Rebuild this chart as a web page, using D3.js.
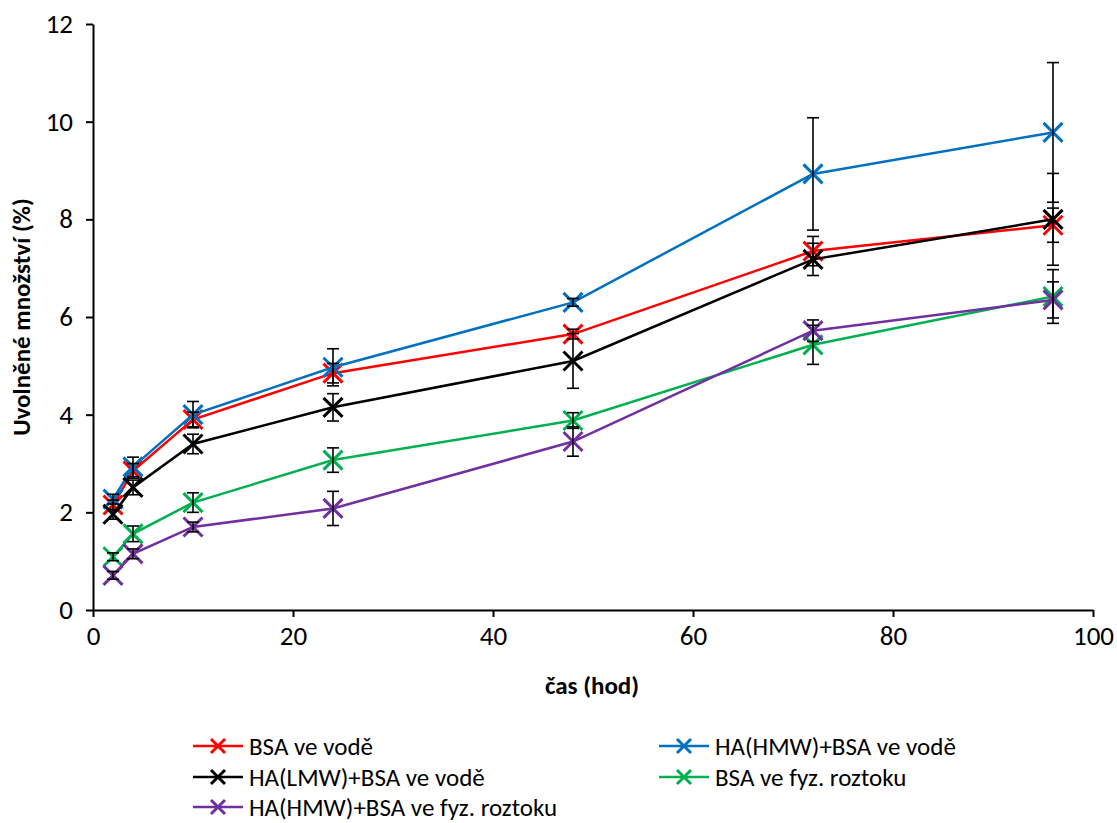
<!DOCTYPE html>
<html><head><meta charset="utf-8">
<script src="https://cdn.jsdelivr.net/npm/d3@7"></script>
<style>
body{margin:0;background:#fff;}
svg text{font-family:Carlito, Calibri, Lato, "Open Sans", sans-serif;}
</style></head>
<body><svg id="c" width="1117" height="823"></svg>
<script>
const times = [2, 4, 10, 24, 48, 72, 96];
const seriesNames = ["BSA ve vodě","HA(HMW)+BSA ve vodě","HA(LMW)+BSA ve vodě","BSA ve fyz. roztoku","HA(HMW)+BSA ve fyz. roztoku"];
const seriesColors = ["#FF0000","#0070C0","#000000","#00B050","#7030A0"];
const bsaVoda      = [2.15, 2.85, 3.9, 4.85, 5.65, 7.35, 7.88];
const hmwVoda      = [2.27, 2.93, 4.0, 4.97, 6.3, 8.93, 9.78];
const lmwVoda      = [1.96, 2.51, 3.4, 4.15, 5.1, 7.18, 8.0];
const bsaFyz       = [1.09, 1.56, 2.2, 3.07, 3.88, 5.43, 6.42];
const hmwFyz       = [0.71, 1.15, 1.7, 2.08, 3.45, 5.72, 6.35];
const errBsaVoda   = [0.1, 0.15, 0.15, 0.2, 0.1, 0.3, 0.35];
const errHmwVoda   = [0.1, 0.2, 0.27, 0.38, 0.08, 1.15, 1.43];
const errLmwVoda   = [0.1, 0.15, 0.2, 0.28, 0.56, 0.33, 0.94];
const errBsaFyz    = [0.08, 0.16, 0.2, 0.25, 0.16, 0.4, 0.55];
const errHmwFyz    = [0.08, 0.1, 0.1, 0.35, 0.3, 0.22, 0.37];
const xTicks = [0, 20, 40, 60, 80, 100];
const yTicks = [0, 2, 4, 6, 8, 10, 12];

const values = [bsaVoda, hmwVoda, lmwVoda, bsaFyz, hmwFyz];
const errors = [errBsaVoda, errHmwVoda, errLmwVoda, errBsaFyz, errHmwFyz];
const series = seriesNames.map((n,i)=>({name:n,color:seriesColors[i],
  pts: times.map((t,j)=>({x:t,y:values[i][j],e:errors[i][j]}))}));

const FONT = "Carlito, Calibri, Lato, sans-serif";
const svg = d3.select("#c");
const x = d3.scaleLinear().domain([0,100]).range([93,1093]);
const y = d3.scaleLinear().domain([0,12]).range([610,24]);

// axes
const ax = svg.append("g").attr("transform","translate(0,610)")
  .call(d3.axisBottom(x).tickValues(xTicks).tickSize(7).tickPadding(9).tickSizeOuter(0));
const ay = svg.append("g").attr("transform","translate(93,0)")
  .call(d3.axisLeft(y).tickValues(yTicks).tickSize(7).tickPadding(13).tickSizeOuter(0));
[ax,ay].forEach(a=>{
  a.attr("font-size",27).attr("font-family",FONT);
  a.selectAll("path,line").attr("stroke","#000").attr("stroke-width",2);
  a.selectAll("text").attr("font-size",27).attr("fill","#000").style("font-family",FONT);
});

const line = d3.line().x(d=>x(d.x)).y(d=>y(d.y));
const xs = 9.5;
function marker(g, cx, cy, color, s){
  g.append("path").attr("d",`M${cx-s},${cy-s}L${cx+s},${cy+s}M${cx-s},${cy+s}L${cx+s},${cy-s}`)
   .attr("stroke",color).attr("stroke-width",3).attr("fill","none");
}
const plot = svg.append("g");
series.forEach(s=>{
  plot.append("path").datum(s.pts).attr("d",line).attr("fill","none")
    .attr("stroke",s.color).attr("stroke-width",2.5);
  s.pts.forEach(p=>marker(plot,x(p.x),y(p.y),s.color,xs));
});
// error bars
const eb = svg.append("g").attr("stroke","#000").attr("stroke-width",1.6);
series.forEach(s=>{
  s.pts.forEach(p=>{
    const cx=x(p.x), t=y(p.y+p.e), b=y(p.y-p.e);
    eb.append("line").attr("x1",cx).attr("x2",cx).attr("y1",t).attr("y2",b);
    eb.append("line").attr("x1",cx-6).attr("x2",cx+6).attr("y1",t).attr("y2",t);
    eb.append("line").attr("x1",cx-6).attr("x2",cx+6).attr("y1",b).attr("y2",b);
  });
});

// axis titles
svg.append("text").attr("x",592).attr("y",694).attr("text-anchor","middle")
  .attr("font-size",25).attr("font-weight","bold").style("font-family",FONT).text("čas (hod)");
svg.append("text").attr("transform","translate(30,317) rotate(-90)").attr("text-anchor","middle")
  .attr("font-size",25).attr("font-weight","bold").style("font-family",FONT).text("Uvolněné množství (%)");

// legend
const legPos = [[193,746],[659,746],[193,777],[659,777],[193,807]];
series.forEach((s,i)=>{
  const [lx,ly]=legPos[i];
  const g = svg.append("g");
  g.append("line").attr("x1",lx).attr("x2",lx+50).attr("y1",ly).attr("y2",ly)
   .attr("stroke",s.color).attr("stroke-width",2.5);
  marker(g,lx+25,ly,s.color,7);
  g.append("text").attr("x",lx+56).attr("y",ly).attr("dy","0.35em")
   .attr("font-size",25).style("font-family",FONT).text(s.name);
});
</script></body></html>
